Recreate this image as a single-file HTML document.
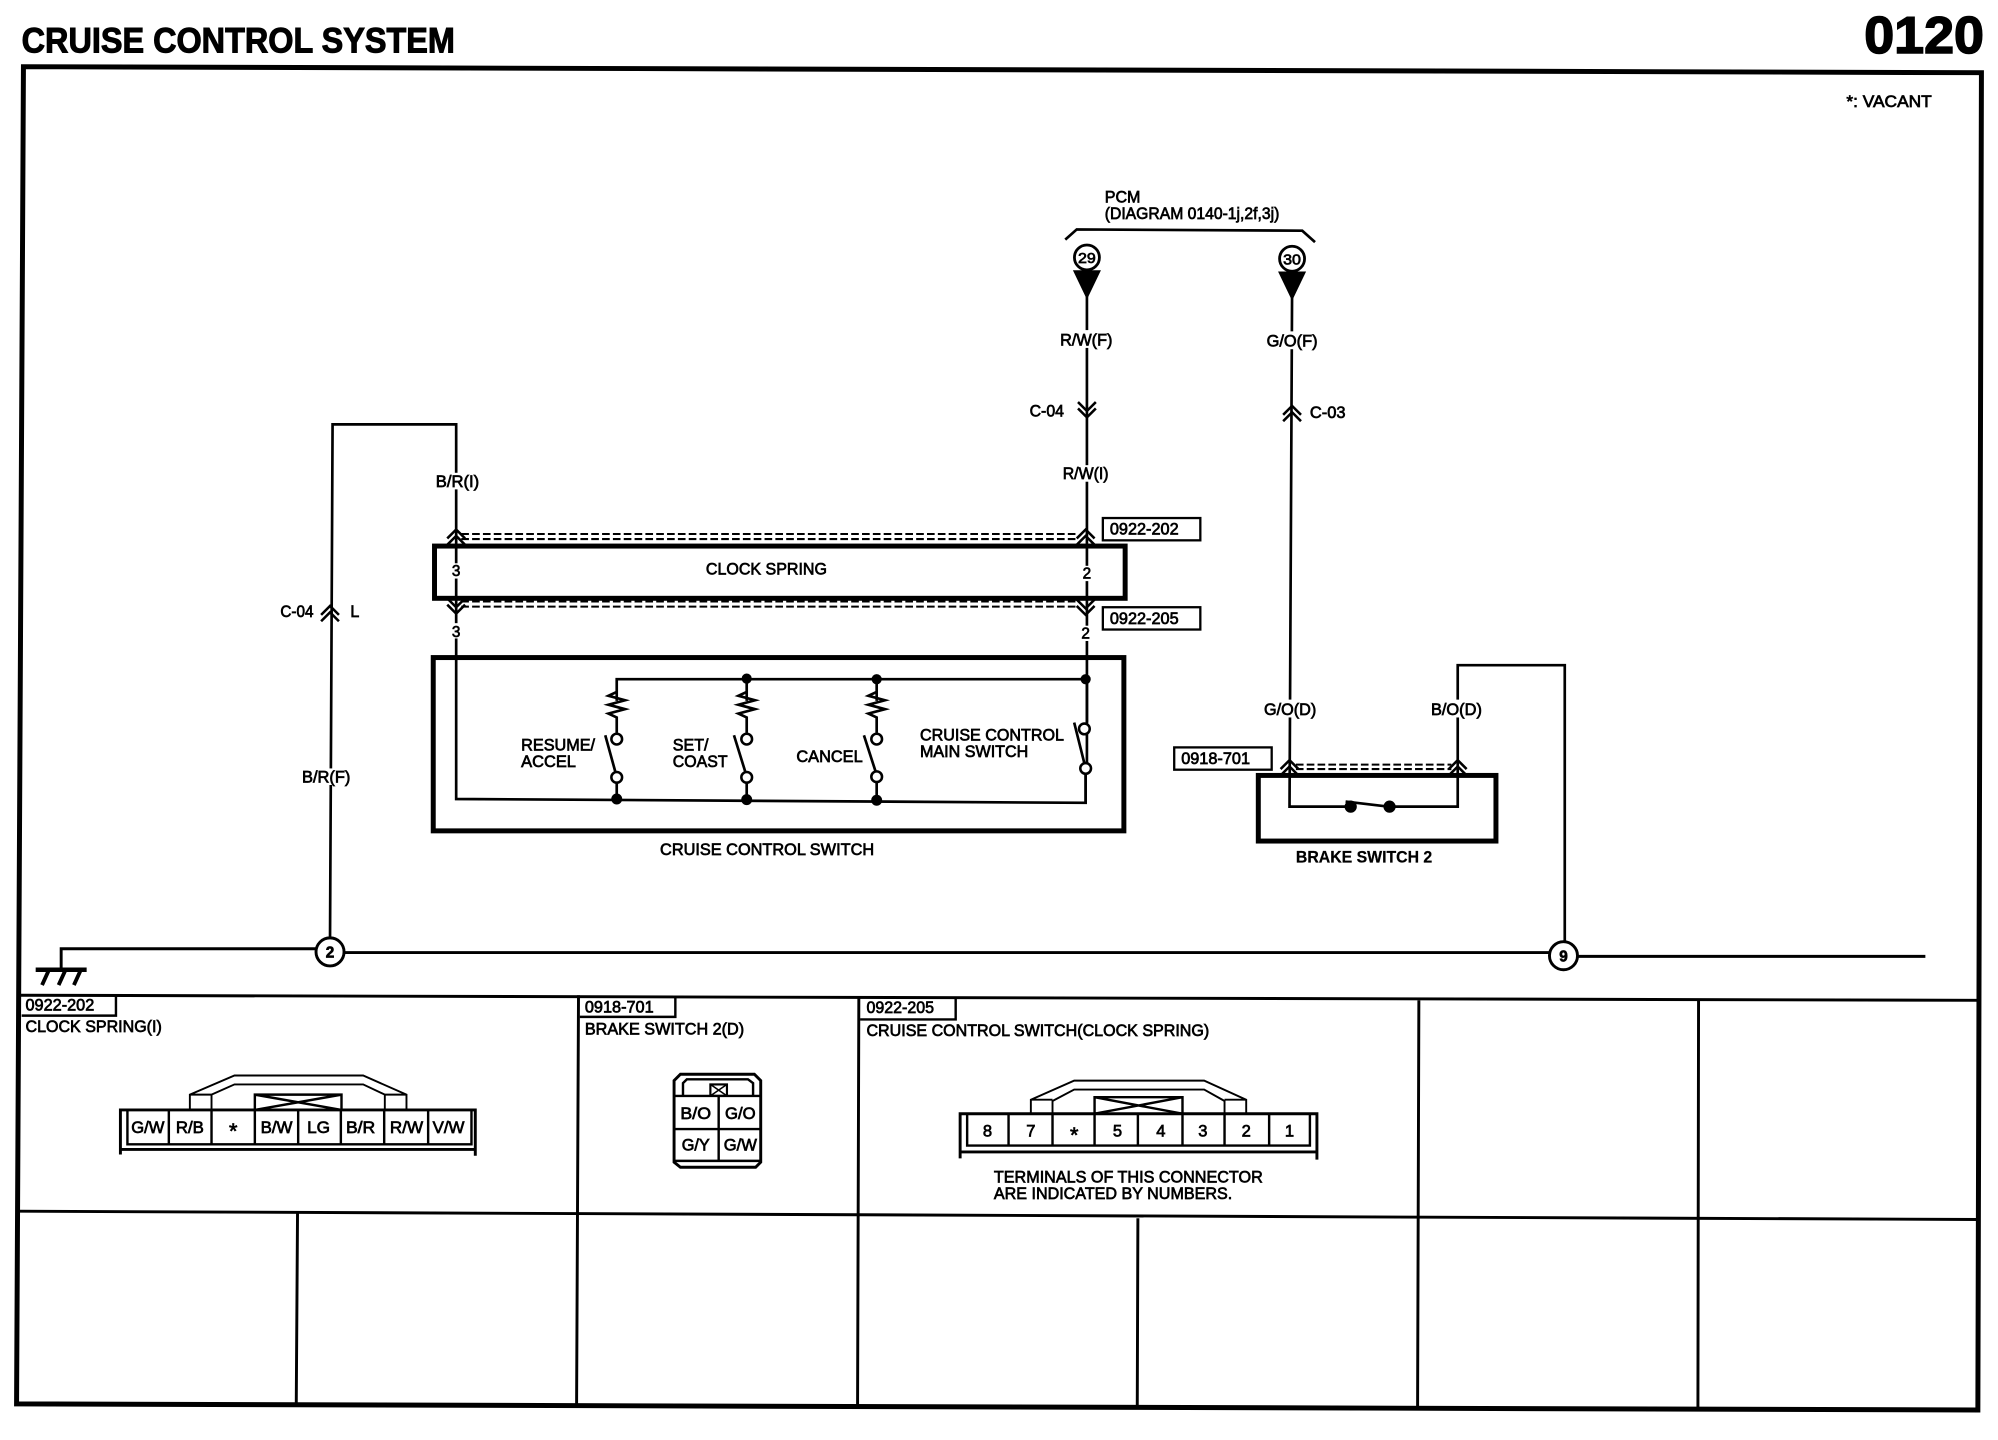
<!DOCTYPE html>
<html lang="en">
<head>
<meta charset="utf-8">
<title>Cruise Control System 0120</title>
<style>
html,body{margin:0;padding:0;background:#fff;width:1998px;height:1440px;overflow:hidden}
svg{display:block}
text{font-family:"Liberation Sans",sans-serif;font-size:13px;fill:#000;stroke:#000;stroke-width:.55px}
.w{fill:none;stroke:#000;stroke-width:2.1}
.k{fill:none;stroke:#000;stroke-width:1.9}
.b{fill:none;stroke:#000;stroke-width:3.9}
.t{fill:none;stroke:#000;stroke-width:1.5}
.g{fill:none;stroke:#000;stroke-width:2.3}
.d{fill:none;stroke:#000;stroke-width:1.6;stroke-dasharray:6 2.5}
.c{text-anchor:middle}
</style>
</head>
<body>
<svg xmlns="http://www.w3.org/2000/svg" width="1998" height="1440" viewBox="0 0 1568 1130">
<rect width="1568" height="1130" fill="#fff"/>
<defs>
<g id="up"><path d="M-7 4.500L0-2.500L7 4.500M-7 9.500L0 2.500L7 9.500" fill="none" stroke="#000" stroke-width="2"/></g>
<g id="dn"><path d="M-7-4.500L0 2.500L7-4.500M-7-9.500L0-2.500L7-9.500" fill="none" stroke="#000" stroke-width="2"/></g>
</defs>

<!-- Header -->
<text x="17" y="41" style="font-size:27.500px;font-weight:700;stroke-width:.8px" textLength="340" lengthAdjust="spacingAndGlyphs">CRUISE CONTROL SYSTEM</text>
<text x="1463" y="41.500" style="font-size:41px;font-weight:700;stroke-width:1.2px" textLength="94" lengthAdjust="spacingAndGlyphs">0120</text>

<!-- Frame -->
<path d="M18.400 52.300L1555 57L1552.200 1106.500L13 1101.700Z" fill="none" stroke="#000" stroke-width="3.900"/>
<path d="M15 781L1553 785M14 950.500L1553 957" class="g"/>
<path d="M454 781L452.500 1103M674 783L673 1104M1113.500 785L1112.500 1105M1333 785L1332.500 1105M233.500 951L232.500 1102M893 956L892.500 1105" class="g"/>

<text x="1449" y="84" textLength="67" lengthAdjust="spacingAndGlyphs">*: VACANT</text>

<!-- PCM -->
<text x="867" y="159" textLength="28" lengthAdjust="spacingAndGlyphs">PCM</text>
<text x="867" y="172" textLength="137" lengthAdjust="spacingAndGlyphs">(DIAGRAM 0140-1j,2f,3j)</text>
<path d="M836 188L845 180L1022 181L1032 190" class="w"/>
<circle cx="853" cy="202" r="9.800" fill="#fff" stroke="#000" stroke-width="2.200"/>
<text x="853" y="206.500" class="c" style="font-size:11.500px" textLength="14" lengthAdjust="spacingAndGlyphs">29</text>
<path d="M842 212H864L853 235Z" fill="#000"/>
<circle cx="1014" cy="203" r="9.800" fill="#fff" stroke="#000" stroke-width="2.200"/>
<text x="1014" y="207.500" class="c" style="font-size:11.500px" textLength="14" lengthAdjust="spacingAndGlyphs">30</text>
<path d="M1003 213H1025L1014 236Z" fill="#000"/>

<!-- Wires -->
<path d="M853 230V600" class="w"/>
<path d="M1014 230L1012 633H1060M1090 633H1144V522H1228V740" class="w"/>
<path d="M259 736L261 333H358V627L852 630V600" class="w"/>
<path d="M852 533H484V550M586 533V550M688 533V550" class="w"/>

<!-- Wire labels -->
<rect x="340" y="371" width="38" height="13" fill="#fff"/>
<rect x="830" y="259" width="46" height="14" fill="#fff"/>
<rect x="992" y="260" width="44" height="14" fill="#fff"/>
<rect x="832" y="365" width="40" height="13" fill="#fff"/>
<rect x="235" y="603" width="42" height="13" fill="#fff"/>
<rect x="990" y="549" width="45" height="14" fill="#fff"/>
<rect x="1121" y="549" width="44" height="14" fill="#fff"/>
<text x="342" y="382" textLength="34" lengthAdjust="spacingAndGlyphs">B/R(I)</text>
<text x="832" y="271" textLength="41" lengthAdjust="spacingAndGlyphs">R/W(F)</text>
<text x="994" y="272" textLength="40" lengthAdjust="spacingAndGlyphs">G/O(F)</text>
<text x="808" y="327" textLength="27" lengthAdjust="spacingAndGlyphs">C-04</text>
<text x="1028" y="328" textLength="28" lengthAdjust="spacingAndGlyphs">C-03</text>
<text x="834" y="376" textLength="36" lengthAdjust="spacingAndGlyphs">R/W(I)</text>
<text x="220" y="484" textLength="26" lengthAdjust="spacingAndGlyphs">C-04</text>
<text x="275" y="484" textLength="7" lengthAdjust="spacingAndGlyphs">L</text>
<text x="237" y="614" textLength="38" lengthAdjust="spacingAndGlyphs">B/R(F)</text>
<text x="992" y="561" textLength="41" lengthAdjust="spacingAndGlyphs">G/O(D)</text>
<text x="1123" y="561" textLength="40" lengthAdjust="spacingAndGlyphs">B/O(D)</text>

<use href="#dn" x="853" y="325"/>
<use href="#up" x="1014" y="321"/>
<use href="#up" x="259" y="478"/>

<!-- Clock spring -->
<rect x="341" y="428.500" width="542" height="41" class="b"/>
<path d="M362 419H845M362 423H845M362 472H845M362 476H845" class="d"/>
<use href="#up" x="358" y="418"/>
<use href="#up" x="852" y="418"/>
<use href="#dn" x="358" y="479"/>
<use href="#dn" x="852" y="480"/>
<rect x="353" y="442" width="10" height="12" fill="#fff"/>
<rect x="848" y="444" width="10" height="12" fill="#fff"/>
<rect x="353" y="489" width="10" height="12" fill="#fff"/>
<rect x="848" y="491" width="10" height="12" fill="#fff"/>
<text x="358" y="452" class="c" style="font-size:12px">3</text>
<text x="853" y="454" class="c" style="font-size:12px">2</text>
<text x="358" y="500" class="c" style="font-size:12px">3</text>
<text x="852" y="501" class="c" style="font-size:12px">2</text>
<text x="554" y="451" textLength="95" lengthAdjust="spacingAndGlyphs">CLOCK SPRING</text>

<rect x="865.500" y="406.500" width="76.500" height="17.500" fill="#fff" stroke="#000" stroke-width="1.800"/>
<text x="871" y="419.500" textLength="54" lengthAdjust="spacingAndGlyphs">0922-202</text>
<rect x="865.500" y="476.500" width="76.500" height="17.500" fill="#fff" stroke="#000" stroke-width="1.800"/>
<text x="871" y="489.500" textLength="54" lengthAdjust="spacingAndGlyphs">0922-205</text>

<!-- Cruise control switch -->
<rect x="340" y="516" width="542" height="136" class="b"/>
<g fill="#000">
<circle cx="586" cy="532.500" r="4"/><circle cx="688" cy="533" r="4"/><circle cx="852" cy="533" r="4"/>
<circle cx="484" cy="627" r="4.300"/><circle cx="586" cy="627.500" r="4.300"/><circle cx="688" cy="628" r="4.300"/>
</g>
<path d="M484 543l-6.500 3 13 3.500-13 3.500 13 3.500-13 3.500 6.500 3V575M586 543l-6.500 3 13 3.500-13 3.500 13 3.500-13 3.500 6.500 3V575M688 543l-6.500 3 13 3.500-13 3.500 13 3.500-13 3.500 6.500 3V575" class="w"/>
<path d="M484 614V627M586 614V627M688 614V627" class="w"/>
<path d="M853 533V567M852 607V630" class="w"/>
<g fill="#fff" stroke="#000" stroke-width="2">
<circle cx="484" cy="580" r="4.200"/><circle cx="484" cy="610" r="4.200"/>
<circle cx="586" cy="580" r="4.200"/><circle cx="586" cy="610" r="4.200"/>
<circle cx="688" cy="580" r="4.200"/><circle cx="688" cy="609.500" r="4.200"/>
<circle cx="851" cy="572" r="4.200"/><circle cx="852" cy="603" r="4.200"/>
</g>
<path d="M475 577L483 606M576 577L585 606M678 577L687 605M843 567L851 599" class="w"/>
<text x="409" y="589" textLength="58" lengthAdjust="spacingAndGlyphs">RESUME/</text>
<text x="409" y="602" textLength="43" lengthAdjust="spacingAndGlyphs">ACCEL</text>
<text x="528" y="589" textLength="28" lengthAdjust="spacingAndGlyphs">SET/</text>
<text x="528" y="602" textLength="43" lengthAdjust="spacingAndGlyphs">COAST</text>
<text x="625" y="598" textLength="52" lengthAdjust="spacingAndGlyphs">CANCEL</text>
<text x="722" y="581" textLength="113" lengthAdjust="spacingAndGlyphs">CRUISE CONTROL</text>
<text x="722" y="594" textLength="85" lengthAdjust="spacingAndGlyphs">MAIN SWITCH</text>
<text x="518" y="671" textLength="168" lengthAdjust="spacingAndGlyphs">CRUISE CONTROL SWITCH</text>

<!-- Brake switch -->
<rect x="987.500" y="608.500" width="186.500" height="51.500" class="b"/>
<path d="M1017 600H1139M1017 603.500H1139" class="d"/>
<use href="#up" x="1012" y="599"/>
<use href="#up" x="1144" y="599"/>
<circle cx="1060" cy="633" r="4.800"/>
<circle cx="1090.500" cy="633" r="4.800"/>
<path d="M1056 629L1090 633" class="w"/>
<rect x="921.500" y="586.500" width="76.500" height="17.500" fill="#fff" stroke="#000" stroke-width="1.800"/>
<text x="927" y="599.500" textLength="54" lengthAdjust="spacingAndGlyphs">0918-701</text>
<text x="1017" y="677" style="font-weight:700;stroke-width:.2px" textLength="107" lengthAdjust="spacingAndGlyphs">BRAKE SWITCH 2</text>

<!-- Ground bus -->
<path d="M48 760V744.500H248M270 747.500H1216M1238 750.500H1511" class="g"/>
<path d="M28 761H68" stroke="#000" stroke-width="3.500"/>
<path d="M38 762L33 773M51 762L46 773M63 762L58 773" stroke="#000" stroke-width="3"/>
<circle cx="259" cy="747" r="11" fill="#fff" stroke="#000" stroke-width="2.300"/>
<text x="259" y="751.500" class="c" style="font-size:12px;font-weight:700">2</text>
<circle cx="1227" cy="750" r="11" fill="#fff" stroke="#000" stroke-width="2.300"/>
<text x="1227" y="754.500" class="c" style="font-size:12px;font-weight:700">9</text>

<!-- Bottom table tabs -->
<path d="M17 797H91V781" class="k"/>
<text x="20" y="793" textLength="54" lengthAdjust="spacingAndGlyphs">0922-202</text>
<text x="20" y="810" textLength="107" lengthAdjust="spacingAndGlyphs">CLOCK SPRING(I)</text>
<path d="M455 798H530V782" class="k"/>
<text x="459" y="794.500" textLength="54" lengthAdjust="spacingAndGlyphs">0918-701</text>
<text x="459" y="812" textLength="125" lengthAdjust="spacingAndGlyphs">BRAKE SWITCH 2(D)</text>
<path d="M675 800H750V783" class="k"/>
<text x="680" y="795" textLength="53" lengthAdjust="spacingAndGlyphs">0922-205</text>
<text x="680" y="813" textLength="269" lengthAdjust="spacingAndGlyphs">CRUISE CONTROL SWITCH(CLOCK SPRING)</text>

<!-- Connector 1 -->
<path d="M94.500 906V871H373V907M94.500 902H373" class="g"/>
<path d="M100 871V898H370V871M132.500 871V898M166 871V898M200 871V898M234 871V898M267.500 871V898M301.500 871V898M336 871V898" class="k"/>
<path d="M149 871V859L184 844H285L319 859V871M166 871V859L184 851H285L302 859V871M149 859H166M302 859H319" class="t"/>
<path d="M200 871V859H268V871M200 859L268 871M268 859L200 871" class="k"/>
<g>
<text x="116" y="889" class="c" textLength="26" lengthAdjust="spacingAndGlyphs">G/W</text>
<text x="149" y="889" class="c" textLength="22" lengthAdjust="spacingAndGlyphs">R/B</text>
<text x="183" y="893" class="c" style="font-size:17px">*</text>
<text x="217" y="889" class="c" textLength="25" lengthAdjust="spacingAndGlyphs">B/W</text>
<text x="250" y="889" class="c" textLength="18" lengthAdjust="spacingAndGlyphs">LG</text>
<text x="283" y="889" class="c" textLength="23" lengthAdjust="spacingAndGlyphs">B/R</text>
<text x="319" y="889" class="c" textLength="26" lengthAdjust="spacingAndGlyphs">R/W</text>
<text x="352" y="889" class="c" textLength="25" lengthAdjust="spacingAndGlyphs">V/W</text>
</g>

<!-- Connector 2 -->
<path d="M534 843H592L597 848V912L593 916H534L529 912V848Z" class="g"/>
<path d="M536 860V850L539 847H587L591 850V860M529 860H597M529 886H597M529 911H597M564 860V911" class="k"/>
<rect x="557.500" y="851" width="13" height="9" fill="none" stroke="#000" stroke-width="1.700"/>
<path d="M557.500 851L570.500 860M570.500 851L557.500 860" stroke="#000" stroke-width="1.200"/>
<text x="546" y="878" class="c" textLength="24" lengthAdjust="spacingAndGlyphs">B/O</text>
<text x="581" y="878" class="c" textLength="24" lengthAdjust="spacingAndGlyphs">G/O</text>
<text x="546" y="903" class="c" textLength="22" lengthAdjust="spacingAndGlyphs">G/Y</text>
<text x="581" y="903" class="c" textLength="26" lengthAdjust="spacingAndGlyphs">G/W</text>

<!-- Connector 3 -->
<path d="M753.500 909V874H1033.500V910M753.500 904H1033.500" class="g"/>
<path d="M759 874V899H1028V874M791.500 874V899M826 874V899M859 874V899M893 874V899M928 874V899M961 874V899M996 874V899" class="k"/>
<path d="M809 874V863L843 848H945L978 863V874M826 874V864L843 855H945L961 864V874M809 863H826M961 863H978" class="t"/>
<path d="M859 874V861H928V874M859 861L928 874M928 861L859 874" class="k"/>
<g>
<text x="775" y="892" class="c">8</text>
<text x="809" y="892" class="c">7</text>
<text x="843" y="896" class="c" style="font-size:17px">*</text>
<text x="877" y="892" class="c">5</text>
<text x="911" y="892" class="c">4</text>
<text x="944" y="892" class="c">3</text>
<text x="978" y="892" class="c">2</text>
<text x="1012" y="892" class="c">1</text>
</g>
<text x="780" y="928" textLength="211" lengthAdjust="spacingAndGlyphs">TERMINALS OF THIS CONNECTOR</text>
<text x="780" y="941" textLength="187" lengthAdjust="spacingAndGlyphs">ARE INDICATED BY NUMBERS.</text>
</svg>
</body>
</html>
